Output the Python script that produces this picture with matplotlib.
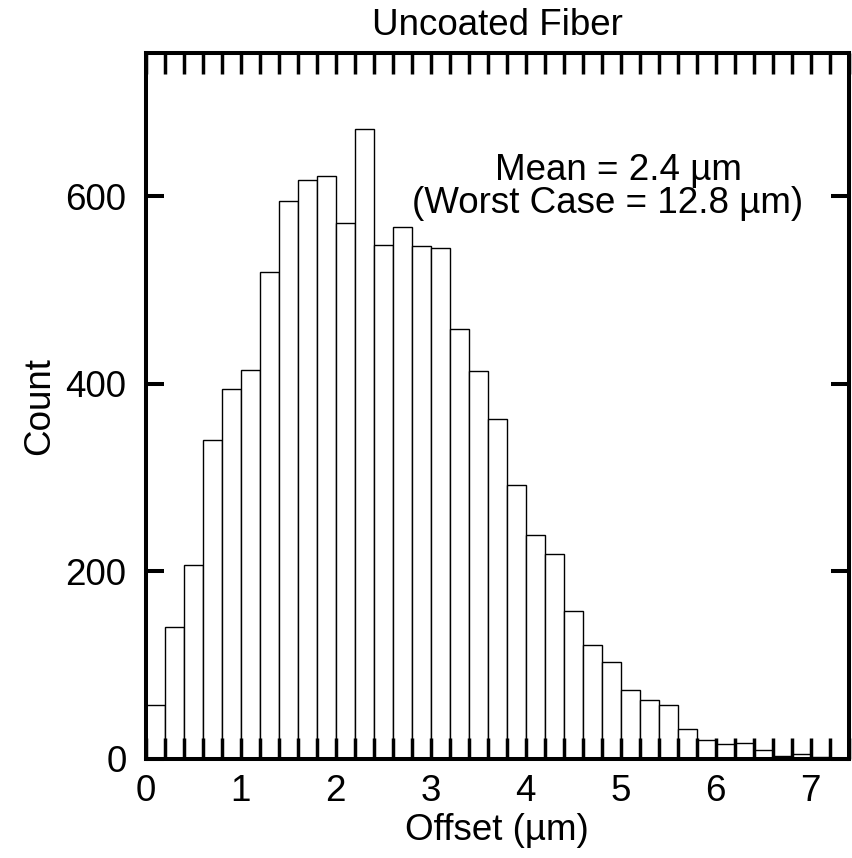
import numpy as np
import matplotlib
matplotlib.use("Agg")
import matplotlib.pyplot as plt
from matplotlib.ticker import MultipleLocator

plt.rcParams['font.family'] = ['Liberation Sans', 'DejaVu Sans']

# Histogram data (bin width 0.2 µm, starting at 0)
bin_width = 0.2
counts = [57, 140, 207, 340, 394, 415, 519, 595, 617, 622, 572, 672, 548,
          567, 547, 545, 458, 414, 363, 292, 239, 218, 158, 121, 103, 73,
          63, 57, 32, 20, 16, 17, 9, 3, 5, 2, 1]
bin_left = np.arange(len(counts)) * bin_width

xticks = [0, 1, 2, 3, 4, 5, 6, 7]
yticks = [0, 200, 400, 600]

title = "Uncoated Fiber"
xlabel = "Offset (\u00b5m)"
ylabel = "Count"
note1 = "Mean = 2.4 \u00b5m"
note2 = "(Worst Case = 12.8 \u00b5m)"

fig = plt.figure(figsize=(8.52, 8.58), dpi=100)
ax = fig.add_axes([146/852, 1-758.7/858, (848.5-146)/852, (758.7-53)/858])

ax.bar(bin_left, counts, width=bin_width, align='edge', facecolor='white',
       edgecolor='black', linewidth=1.0)

ax.set_xlim(0, 7.4)
ax.set_ylim(0, 753)

fs = 26.5
ax.set_xticks(xticks)
ax.set_xticklabels([str(t) for t in xticks])
ax.xaxis.set_minor_locator(MultipleLocator(0.2))
ax.set_yticks(yticks)
ax.set_yticklabels([str(t) for t in yticks])

ax.tick_params(axis='x', which='both', direction='in', top=True, bottom=True,
               length=15, width=2.5, labelsize=fs, pad=11)
ax.tick_params(axis='y', which='major', direction='in', left=True, right=True,
               length=13, width=2.9, labelsize=fs, pad=14)

for s in ax.spines.values():
    s.set_linewidth(2.9)

ax.set_title(title, fontsize=fs, pad=13)
ax.set_xlabel(xlabel, fontsize=fs)
ax.set_ylabel(ylabel, fontsize=fs)
ax.yaxis.set_label_coords(-0.127, 0.5)
ax.xaxis.set_label_coords(0.5, -0.077)

ax.text(4.98, 617.8, note1, fontsize=fs, ha='center', va='baseline')
ax.text(4.86, 582.3, note2, fontsize=fs, ha='center', va='baseline')

fig.savefig("out.png", dpi=100)
